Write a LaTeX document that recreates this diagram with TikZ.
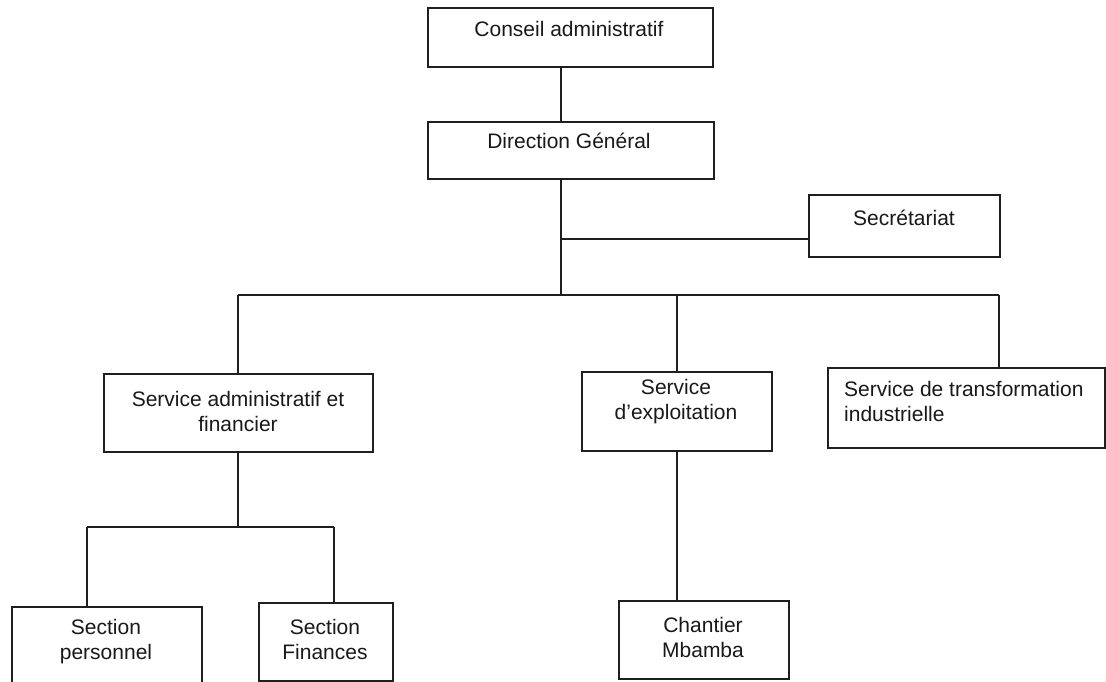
\documentclass[tikz,border=0pt]{standalone}
\usepackage{fontspec}
\setmainfont{Liberation Sans}
\begin{document}
\begin{tikzpicture}[x=1pt,y=-1pt,
  box/.style={draw=black!88,line width=1.8pt,inner sep=0pt,anchor=north west},
  txt/.style={font=\fontsize{21}{25}\selectfont,inner sep=0pt,text=black!90},
  conn/.style={draw=black!88,line width=1.8pt}]
\useasboundingbox (0,0) rectangle (1106,682);
\clip (0,0) rectangle (1106,682);
\fill[white] (0,0) rectangle (1106,682);
% boxes
\node[box,minimum width=285pt,minimum height=59pt] (conseil) at (427,7) {};
\node[box,minimum width=286pt,minimum height=57pt] (direction) at (427,121) {};
\node[box,minimum width=191pt,minimum height=62pt] (sec) at (808,194) {};
\node[box,minimum width=269pt,minimum height=78pt] (saf) at (103,373) {};
\node[box,minimum width=190pt,minimum height=79pt] (expl) at (581,371) {};
\node[box,minimum width=277pt,minimum height=80pt] (trans) at (827,367) {};
\node[box,minimum width=190pt,minimum height=90pt] (perso) at (11,606) {};
\node[box,minimum width=134pt,minimum height=78pt] (fin) at (258,602) {};
\node[box,minimum width=170pt,minimum height=78pt] (chant) at (618,600) {};
% texts
\node[txt,anchor=base] (conseil-t) at (569,37) {Conseil administratif};
\node[txt,anchor=base] (direction-t) at (569,149) {Direction Général};
\node[txt,anchor=base] (sec-t) at (904,225) {Secrétariat};
\node[txt,align=center] (saf-t) at (238,411) {Service administratif et\\financier};
\node[txt,align=center] (expl-t) at (676,402) {Service\\d'exploitation};
\node[txt,align=left,anchor=west] (trans-t) at (844,401) {Service de transformation\\industrielle};
\node[txt,align=center] (perso-t) at (106,642) {Section\\personnel};
\node[txt,align=center] (fin-t) at (325,639) {Section\\Finances};
\node[txt,align=center] (chant-t) at (703,637) {Chantier\\Mbamba};
% junctions
\coordinate (trunk) at (561,0);
\coordinate (secj) at (561,239);
\coordinate (bus) at (561,295);
\coordinate (busL) at (238,295);
\coordinate (busR) at (999,295);
\coordinate (subbus) at (238,527);
\coordinate (subL) at (87,527);
\coordinate (subR) at (334,527);
% connectors
\draw[conn] (conseil.south -| trunk) -- (direction.north -| trunk);
\draw[conn] (direction.south -| trunk) -- (bus);
\draw[conn] (secj) -- (secj -| sec.west);
\draw[conn] (busL) -- (busR);
\draw[conn] (busL) -- (busL |- saf.north);
\draw[conn] (expl.north |- bus) -- (expl.north);
\draw[conn] (busR) -- (busR |- trans.north);
\draw[conn] (saf.south -| subbus) -- (subbus);
\draw[conn] (subL) -- (subR);
\draw[conn] (subL) -- (subL |- perso.north);
\draw[conn] (subR) -- (subR |- fin.north);
\draw[conn] (expl.south) -- (expl.south |- chant.north);
\end{tikzpicture}
\end{document}
